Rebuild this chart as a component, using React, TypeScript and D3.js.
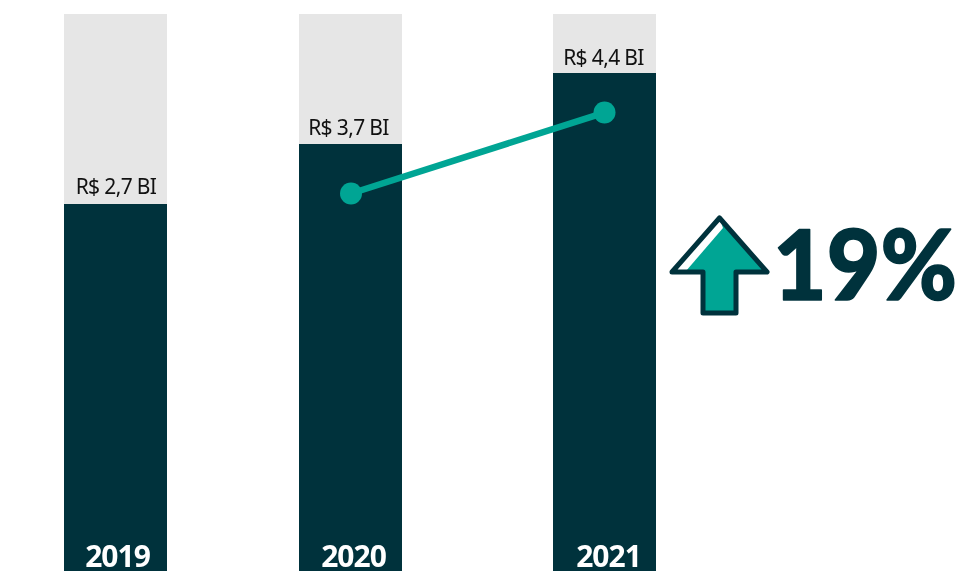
import React from "react";
import * as d3 from "d3";

const years = ["2019", "2020", "2021"];
const values = [2.7, 3.7, 4.4];
const labels = ["R$ 2,7 BI", "R$ 3,7 BI", "R$ 4,4 BI"];
const linePoints = [2.875, 4.01];
const lineYears = ["2020", "2021"];
const changeLabel = "19%";
const font = "'Noto Sans', sans-serif";
const dark = "#00323c";
const teal = "#00a594";

const labelDx = [0.5, -2, -1];
const labelDy = [-10, -9, -8];
const yearDx = [2, 3, 4];

export default function App() {
  // The source bars are not drawn to a zero-based scale, so each value is mapped to its read position
  const y = d3.scaleLinear().domain(values).range([204, 144, 73]);
  const x = d3.scaleOrdinal<string, number>().domain(years).range([115.5, 350.5, 604.5]);
  const bw = 103;
  const line = d3.line<number>().x((_, i) => x(lineYears[i]) + 0.5 * (1 - i)).y((d) => y(d));
  return (
    <svg width={959} height={571} style={{ position: "fixed", left: 0, top: 0, display: "block" }}>
      {years.map((yr, i) => (
        <g key={yr}>
          <rect x={x(yr) - bw / 2} y={14} width={bw} height={557} fill="#e6e6e6" />
          <rect x={x(yr) - bw / 2} y={y(values[i])} width={bw} height={571 - y(values[i])} fill={dark} />
          <text x={x(yr) + labelDx[i]} y={y(values[i]) + labelDy[i]} textAnchor="middle" fontFamily={font} fontSize={21} letterSpacing={-0.65} fill="#111">{labels[i]}</text>
          <text x={x(yr) + yearDx[i]} y={567} textAnchor="middle" fontFamily={font} fontSize={30} fontWeight={700} letterSpacing={-1} fill="#fff">{yr}</text>
        </g>
      ))}
      <path d={line(linePoints) ?? ""} fill="none" stroke={teal} strokeWidth={6.5} />
      {linePoints.map((v, i) => (
        <circle key={i} cx={x(lineYears[i]) + 0.5 * (1 - i)} cy={y(v)} r={11} fill={teal} />
      ))}
      <path d="M719.5 218 L767 272 L736 272 L736 313 L703 313 L703 272 L672 272 Z" fill={teal} />
      <path d="M719.5 218 L672 272 L686 271 L723 228 Z" fill="#fff" />
      <path d="M719.5 218 L767 272 L736 272 L736 313 L703 313 L703 272 L672 272 Z" fill="none" stroke={dark} strokeWidth={5} strokeLinejoin="round" />
      <text x={773} y={299.5} fontFamily="Lato, sans-serif" fontSize={97} fontWeight={900} textLength={184} lengthAdjust="spacingAndGlyphs" fill={dark} stroke={dark} strokeWidth={1.6} strokeLinejoin="round">{changeLabel}</text>
    </svg>
  );
}
